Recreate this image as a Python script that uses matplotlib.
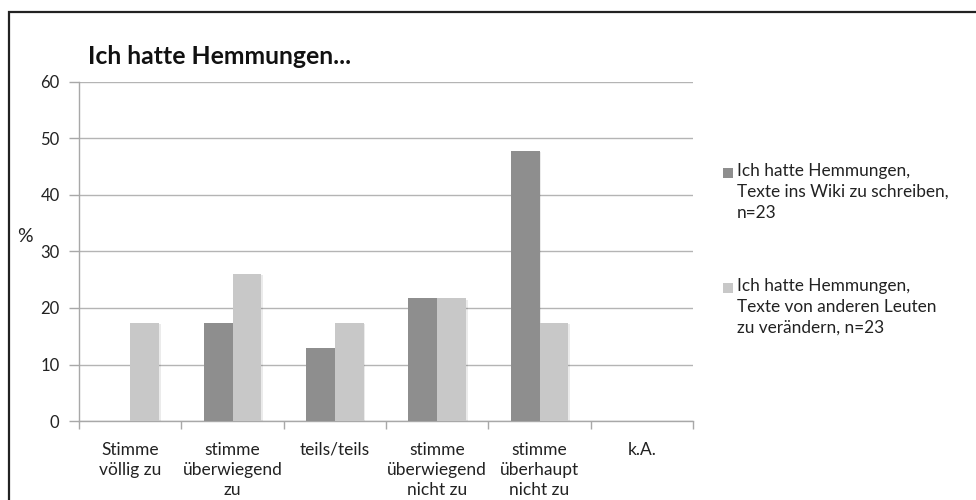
import matplotlib
matplotlib.use("Agg")
import matplotlib.pyplot as plt
import matplotlib.patches as mpatches
import matplotlib.patheffects as pe
import numpy as np

categories = ["Stimme\nvöllig zu", "stimme\nüberwiegend\nzu", "teils/teils",
              "stimme\nüberwiegend\nnicht zu", "stimme\nüberhaupt\nnicht zu", "k.A."]
wiki_schreiben = [0.0, 17.4, 13.0, 21.7, 47.8, 0.0]
andere_veraendern = [17.4, 26.1, 17.4, 21.7, 17.4, 0.0]
series_labels = ["Ich hatte Hemmungen,\nTexte ins Wiki zu schreiben,\nn=23",
                 "Ich hatte Hemmungen,\nTexte von anderen Leuten\nzu verändern, n=23"]
yticks = [0, 10, 20, 30, 40, 50, 60]
title = "Ich hatte Hemmungen..."

plt.rcParams["font.family"] = ["Lato", "DejaVu Sans"]

W, H = 976, 500
fig = plt.figure(figsize=(W / 100, H / 100), dpi=100)
fig.patch.set_facecolor("white")

# outer frame (runs off the right and bottom edges)
frame = mpatches.Rectangle((9 / W, -0.1), 1.1, 1 - 12 / H + 0.1,
                           transform=fig.transFigure, fill=False,
                           edgecolor="#222222", linewidth=1.6, zorder=0)
fig.patches.append(frame)

ax = fig.add_axes([79 / W, 79 / H, (693 - 79) / W, (421 - 82) / H])

dark = "#8e8e8e"
light = "#c8c8c8"
bw = 0.283
x = np.arange(len(categories)) + 0.5
shadow = [pe.SimplePatchShadow(offset=(1.0, -1.0), shadow_rgbFace="#000000", alpha=0.08), pe.Normal()]
b1 = ax.bar(x - bw / 2, wiki_schreiben, width=bw, color=dark, zorder=3)
b2 = ax.bar(x + bw / 2, andere_veraendern, width=bw, color=light, zorder=3)
for p in list(b1) + list(b2):
    p.set_path_effects(shadow)

ax.set_xlim(0, len(categories))
ax.set_ylim(0, 60)
ax.set_yticks(yticks)
ax.set_yticklabels([str(v) for v in yticks], fontsize=12, color="#222222")
ax.yaxis.grid(True, color="#b4b4b4", linewidth=1.0, zorder=0)
ax.set_axisbelow(True)

ax.set_xticks(np.arange(len(categories) + 1))
ax.set_xticklabels([])
ax.set_xticks(x, minor=True)
ax.set_xticklabels(categories, minor=True, fontsize=12.5, color="#222222",
                   linespacing=1.33, va="top")
ax.tick_params(axis="x", which="minor", length=0, pad=15)
ax.tick_params(axis="x", which="major", length=6, color="#a8a8a8", width=1.0)
ax.tick_params(axis="y", length=7, color="#a8a8a8", width=1.0, pad=7)

for s in ["top", "right"]:
    ax.spines[s].set_visible(False)
for s in ["left", "bottom"]:
    ax.spines[s].set_color("#a8a8a8")
    ax.spines[s].set_linewidth(1.0)

fig.text(88 / W, 1 - 56 / H, title, fontsize=17.8, fontweight="bold",
         color="#111111", va="center", ha="left")
fig.text(17 / W, 1 - 236 / H, "%", fontsize=14, color="#222222",
         va="center", ha="left")

# legend
for i, (lab, col) in enumerate(zip(series_labels, [dark, light])):
    ytop = 163 + i * 115
    fig.patches.append(mpatches.Rectangle((723 / W, 1 - (ytop + 15) / H), 10 / W, 10 / H,
                                          transform=fig.transFigure, facecolor=col,
                                          edgecolor="none"))
    fig.text(737 / W, 1 - ytop / H, lab, fontsize=12.4, color="#222222",
             va="top", ha="left", linespacing=1.38)

fig.savefig("out.png", dpi=100, facecolor="white")
